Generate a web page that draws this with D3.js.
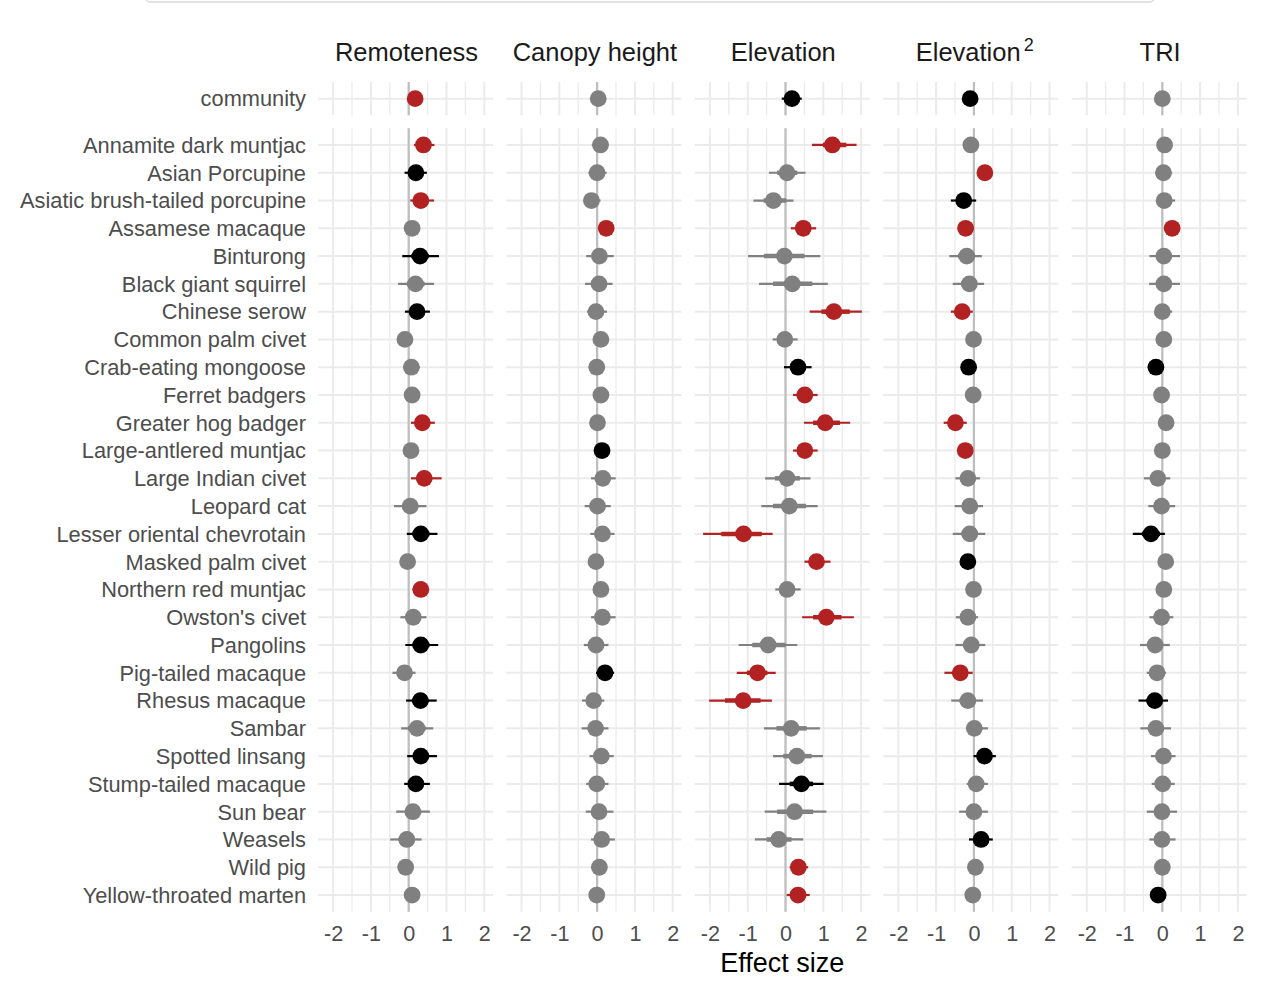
<!DOCTYPE html>
<html>
<head>
<meta charset="utf-8">
<script src="https://cdn.jsdelivr.net/npm/d3@7"></script>
<style>
  body { margin: 0; background: #fff; }
  svg { display: block; font-family: "Liberation Sans", Arial, sans-serif; }
  .tick-label { fill: #4D4D4D; }
</style>
</head>
<body>
<div id="chart"></div>
<script>
// species rows (top to bottom)
const species = [
  "Annamite dark muntjac", "Asian Porcupine", "Asiatic brush-tailed porcupine",
  "Assamese macaque", "Binturong", "Black giant squirrel", "Chinese serow",
  "Common palm civet", "Crab-eating mongoose", "Ferret badgers", "Greater hog badger",
  "Large-antlered muntjac", "Large Indian civet", "Leopard cat",
  "Lesser oriental chevrotain", "Masked palm civet", "Northern red muntjac",
  "Owston's civet", "Pangolins", "Pig-tailed macaque", "Rhesus macaque", "Sambar",
  "Spotted linsang", "Stump-tailed macaque", "Sun bear", "Weasels", "Wild pig",
  "Yellow-throated marten"
];

const covariates = ["Remoteness", "Canopy height", "Elevation", "Elevation2", "TRI"];
const xTicks = [-2, -1, 0, 1, 2];

// each row: [estimate, lo95, lo80, hi80, hi95, significance]
// first row = community, then species in the order above
const remoteness = [
  [0.17, 0.02, 0.10, 0.24, 0.32, "r"],
  [0.39, 0.14, 0.25, 0.53, 0.68, "r"], [0.19, -0.11, 0.05, 0.34, 0.48, "b"],
  [0.32, 0.04, 0.18, 0.48, 0.67, "r"], [0.09, -0.12, -0.02, 0.20, 0.30, "g"],
  [0.30, -0.17, 0.07, 0.53, 0.80, "b"], [0.18, -0.28, -0.05, 0.42, 0.67, "g"],
  [0.22, -0.10, 0.05, 0.39, 0.56, "b"], [-0.10, -0.30, -0.20, 0.00, 0.10, "g"],
  [0.07, -0.15, -0.04, 0.18, 0.30, "g"], [0.09, -0.10, -0.01, 0.19, 0.28, "g"],
  [0.36, 0.06, 0.20, 0.52, 0.69, "r"], [0.06, -0.14, -0.04, 0.16, 0.26, "g"],
  [0.41, 0.06, 0.22, 0.62, 0.87, "r"], [0.04, -0.39, -0.17, 0.25, 0.47, "g"],
  [0.32, -0.05, 0.10, 0.55, 0.76, "b"], [-0.03, -0.22, -0.12, 0.07, 0.17, "g"],
  [0.32, 0.10, 0.20, 0.44, 0.54, "r"], [0.12, -0.22, -0.05, 0.29, 0.47, "g"],
  [0.32, -0.09, 0.10, 0.55, 0.78, "b"], [-0.11, -0.43, -0.27, 0.04, 0.18, "g"],
  [0.31, -0.07, 0.09, 0.52, 0.74, "b"], [0.22, -0.20, -0.02, 0.45, 0.65, "g"],
  [0.32, -0.04, 0.11, 0.54, 0.75, "b"], [0.19, -0.12, 0.03, 0.37, 0.56, "b"],
  [0.11, -0.33, -0.10, 0.33, 0.56, "g"], [-0.05, -0.49, -0.27, 0.15, 0.34, "g"],
  [-0.08, -0.27, -0.17, 0.02, 0.11, "g"], [0.09, -0.10, -0.01, 0.19, 0.28, "g"]
];

const canopy = [
  [0.03, -0.17, -0.07, 0.13, 0.23, "g"],
  [0.09, -0.14, -0.03, 0.20, 0.30, "g"], [0.00, -0.23, -0.12, 0.12, 0.25, "g"],
  [-0.15, -0.36, -0.26, -0.03, 0.09, "g"], [0.24, 0.05, 0.14, 0.34, 0.43, "r"],
  [0.06, -0.29, -0.12, 0.25, 0.44, "g"], [0.05, -0.32, -0.13, 0.23, 0.41, "g"],
  [-0.03, -0.27, -0.15, 0.12, 0.26, "g"], [0.10, -0.09, 0.00, 0.20, 0.29, "g"],
  [-0.01, -0.20, -0.10, 0.09, 0.18, "g"], [0.10, -0.09, 0.00, 0.20, 0.29, "g"],
  [0.01, -0.19, -0.09, 0.11, 0.21, "g"], [0.13, -0.05, 0.04, 0.22, 0.31, "b"],
  [0.15, -0.16, -0.01, 0.32, 0.49, "g"], [0.01, -0.33, -0.16, 0.18, 0.36, "g"],
  [0.14, -0.18, -0.02, 0.30, 0.46, "g"], [-0.03, -0.22, -0.12, 0.07, 0.16, "g"],
  [0.10, -0.10, 0.00, 0.20, 0.30, "g"], [0.14, -0.16, -0.01, 0.31, 0.49, "g"],
  [-0.03, -0.35, -0.19, 0.14, 0.30, "g"], [0.21, -0.03, 0.08, 0.34, 0.45, "b"],
  [-0.09, -0.40, -0.24, 0.05, 0.19, "g"], [-0.04, -0.41, -0.22, 0.14, 0.30, "g"],
  [0.11, -0.20, -0.04, 0.27, 0.44, "g"], [-0.01, -0.29, -0.15, 0.14, 0.30, "g"],
  [0.05, -0.30, -0.12, 0.23, 0.43, "g"], [0.12, -0.16, -0.02, 0.29, 0.47, "g"],
  [0.06, -0.13, -0.04, 0.15, 0.25, "g"], [-0.01, -0.20, -0.10, 0.09, 0.18, "g"]
];

const elevation = [
  [0.17, -0.10, 0.02, 0.32, 0.43, "b"],
  [1.24, 0.70, 0.99, 1.61, 1.88, "r"], [0.04, -0.44, -0.22, 0.31, 0.53, "g"],
  [-0.32, -0.85, -0.58, 0.02, 0.21, "g"], [0.47, 0.14, 0.30, 0.64, 0.81, "r"],
  [-0.03, -0.99, -0.57, 0.50, 0.92, "g"], [0.18, -0.70, -0.33, 0.71, 1.12, "g"],
  [1.28, 0.64, 0.95, 1.70, 2.02, "r"], [-0.02, -0.34, -0.18, 0.15, 0.32, "g"],
  [0.33, -0.04, 0.13, 0.52, 0.69, "b"], [0.51, 0.20, 0.35, 0.68, 0.85, "r"],
  [1.05, 0.49, 0.73, 1.44, 1.71, "r"], [0.51, 0.20, 0.36, 0.67, 0.85, "r"],
  [0.04, -0.54, -0.28, 0.38, 0.66, "g"], [0.10, -0.64, -0.33, 0.54, 0.85, "g"],
  [-1.11, -2.18, -1.70, -0.63, -0.34, "r"], [0.82, 0.50, 0.66, 1.00, 1.19, "r"],
  [0.04, -0.27, -0.12, 0.22, 0.40, "g"], [1.08, 0.44, 0.73, 1.48, 1.81, "r"],
  [-0.46, -1.24, -0.88, 0.00, 0.31, "g"], [-0.74, -1.29, -1.02, -0.48, -0.26, "r"],
  [-1.12, -2.02, -1.60, -0.66, -0.36, "r"], [0.15, -0.57, -0.24, 0.56, 0.91, "g"],
  [0.30, -0.33, -0.06, 0.69, 0.99, "g"], [0.42, -0.17, 0.11, 0.73, 1.01, "b"],
  [0.24, -0.55, -0.22, 0.73, 1.08, "g"], [-0.18, -0.81, -0.50, 0.16, 0.47, "g"],
  [0.34, 0.11, 0.22, 0.47, 0.60, "r"], [0.33, 0.03, 0.18, 0.49, 0.64, "r"]
];

const elevationSq = [
  [-0.10, -0.25, -0.18, -0.02, 0.05, "b"],
  [-0.08, -0.27, -0.17, 0.02, 0.11, "g"], [0.29, 0.10, 0.20, 0.38, 0.48, "r"],
  [-0.27, -0.61, -0.44, -0.10, 0.06, "b"], [-0.22, -0.40, -0.31, -0.13, -0.04, "r"],
  [-0.19, -0.65, -0.42, 0.02, 0.21, "g"], [-0.12, -0.56, -0.34, 0.08, 0.27, "g"],
  [-0.31, -0.61, -0.46, -0.17, -0.03, "r"], [-0.01, -0.20, -0.10, 0.09, 0.18, "g"],
  [-0.14, -0.32, -0.23, -0.05, 0.03, "b"], [-0.02, -0.21, -0.11, 0.08, 0.17, "g"],
  [-0.49, -0.80, -0.65, -0.34, -0.19, "r"], [-0.23, -0.42, -0.32, -0.14, -0.05, "r"],
  [-0.16, -0.49, -0.32, 0.00, 0.16, "g"], [-0.11, -0.51, -0.30, 0.06, 0.24, "g"],
  [-0.11, -0.56, -0.33, 0.10, 0.30, "g"], [-0.16, -0.34, -0.25, -0.07, 0.02, "b"],
  [-0.01, -0.20, -0.10, 0.09, 0.18, "g"], [-0.16, -0.48, -0.32, 0.00, 0.11, "g"],
  [-0.07, -0.49, -0.28, 0.12, 0.30, "g"], [-0.36, -0.78, -0.56, -0.18, -0.03, "r"],
  [-0.16, -0.60, -0.38, 0.05, 0.24, "g"], [0.01, -0.21, -0.10, 0.18, 0.37, "g"],
  [0.28, -0.01, 0.13, 0.43, 0.58, "b"], [0.06, -0.19, -0.06, 0.20, 0.37, "g"],
  [0.00, -0.39, -0.19, 0.18, 0.37, "g"], [0.19, -0.13, 0.03, 0.35, 0.50, "b"],
  [0.04, -0.15, -0.05, 0.13, 0.23, "g"], [-0.03, -0.22, -0.12, 0.07, 0.16, "g"]
];

const tri = [
  [0.00, -0.19, -0.09, 0.09, 0.19, "g"],
  [0.06, -0.13, -0.04, 0.15, 0.25, "g"], [0.03, -0.19, -0.08, 0.14, 0.26, "g"],
  [0.05, -0.17, -0.06, 0.18, 0.34, "g"], [0.26, 0.07, 0.16, 0.36, 0.45, "r"],
  [0.04, -0.34, -0.15, 0.24, 0.47, "g"], [0.04, -0.35, -0.15, 0.24, 0.47, "g"],
  [0.00, -0.21, -0.10, 0.12, 0.26, "g"], [0.04, -0.15, -0.05, 0.13, 0.23, "g"],
  [-0.17, -0.36, -0.26, -0.08, 0.02, "b"], [-0.02, -0.21, -0.11, 0.08, 0.17, "g"],
  [0.10, -0.11, 0.00, 0.20, 0.31, "g"], [0.00, -0.19, -0.09, 0.09, 0.19, "g"],
  [-0.12, -0.49, -0.30, 0.05, 0.21, "g"], [-0.02, -0.37, -0.19, 0.16, 0.34, "g"],
  [-0.30, -0.78, -0.54, -0.06, 0.07, "b"], [0.09, -0.10, -0.01, 0.19, 0.28, "g"],
  [0.04, -0.15, -0.05, 0.13, 0.23, "g"], [-0.02, -0.34, -0.18, 0.14, 0.29, "g"],
  [-0.19, -0.59, -0.39, 0.01, 0.20, "g"], [-0.14, -0.41, -0.27, 0.00, 0.10, "g"],
  [-0.20, -0.63, -0.42, -0.02, 0.15, "b"], [-0.17, -0.58, -0.37, 0.03, 0.23, "g"],
  [0.03, -0.30, -0.13, 0.19, 0.35, "g"], [0.01, -0.28, -0.13, 0.16, 0.33, "g"],
  [-0.01, -0.41, -0.21, 0.19, 0.39, "g"], [-0.01, -0.34, -0.17, 0.16, 0.35, "g"],
  [0.00, -0.19, -0.09, 0.09, 0.19, "g"], [-0.11, -0.29, -0.20, -0.03, 0.02, "b"]
];

const panelData = [remoteness, canopy, elevation, elevationSq, tri];
const sigColour = {r: "#B22222", b: "#000000", g: "#808080"};

const width = 1270, height = 989;
const panelLeft = 318, panelWidth = 175, panelStep = 188.4;
const commTop = 82, commBottom = 115.3;
const spTop = 128.3, spBottom = 911.7;

const svg = d3.select("#chart").append("svg")
  .attr("width", width)
  .attr("height", height)
  .attr("viewBox", `0 0 ${width} ${height}`);

// cut-off box at top of the figure
svg.append("rect")
  .attr("x", 146).attr("y", -30)
  .attr("width", 1008).attr("height", 32)
  .attr("rx", 4)
  .attr("fill", "#fff")
  .attr("stroke", "#D9D9D9")
  .attr("stroke-width", 1.5);

//
// Scales
//

const x = d3.scaleLinear().domain([-2.4, 2.23]).range([0, panelWidth]);

const yComm = d3.scalePoint().domain(["community"]).range([commTop, commBottom]).padding(0.6);
const ySp = d3.scalePoint().domain(species).range([spTop, spBottom]).padding(0.6);

const minorTicks = [-2.5, -1.5, -0.5, 0.5, 1.5].filter(v => v >= x.domain()[0] && v <= x.domain()[1]);

//
// Y labels
//

const yLabels = svg.append("g").attr("class", "y-labels");
yLabels.append("text")
  .attr("class", "tick-label")
  .attr("x", 306).attr("y", yComm("community"))
  .attr("dy", "0.34em")
  .attr("text-anchor", "end")
  .style("font-size", "21.8px")
  .text("community");
yLabels.selectAll(".sp-label").data(species).enter().append("text")
  .attr("class", "tick-label sp-label")
  .attr("x", 306).attr("y", d => ySp(d))
  .attr("dy", "0.36em")
  .attr("text-anchor", "end")
  .style("font-size", "21.8px")
  .text(d => d);

//
// Panels
//

covariates.forEach((cov, k) => {
  const g = svg.append("g")
    .attr("transform", `translate(${panelLeft + k * panelStep},0)`);
  const rows = panelData[k];

  // strip label
  const strip = g.append("text")
    .attr("x", panelWidth / 2 + (cov === "Elevation2" ? 4 : 1)).attr("y", 61)
    .attr("text-anchor", "middle")
    .style("font-size", "25.5px")
    .attr("fill", "#1A1A1A");
  if (cov === "Elevation2") {
    strip.append("tspan").text("Elevation");
    strip.append("tspan").attr("dx", 3).attr("dy", -10).style("font-size", "18px").text("2");
  } else {
    strip.text(cov);
  }

  [[commTop, commBottom, ["community"], yComm, rows.slice(0, 1)],
   [spTop, spBottom, species, ySp, rows.slice(1)]].forEach(([top, bottom, cats, y, vals]) => {
    // minor grid
    g.selectAll(null).data(minorTicks).enter().append("line")
      .attr("x1", d => x(d)).attr("x2", d => x(d))
      .attr("y1", top).attr("y2", bottom)
      .attr("stroke", "#EBEBEB").attr("stroke-width", 1.3);
    // major grid
    g.selectAll(null).data(xTicks).enter().append("line")
      .attr("x1", d => x(d)).attr("x2", d => x(d))
      .attr("y1", top).attr("y2", bottom)
      .attr("stroke", "#EBEBEB").attr("stroke-width", 2);
    g.selectAll(null).data(cats).enter().append("line")
      .attr("x1", 0).attr("x2", panelWidth)
      .attr("y1", d => y(d)).attr("y2", d => y(d))
      .attr("stroke", "#EBEBEB").attr("stroke-width", 2);
    // zero reference
    g.append("line")
      .attr("x1", x(0)).attr("x2", x(0))
      .attr("y1", top).attr("y2", bottom)
      .attr("stroke", "#BEBEBE").attr("stroke-width", 2.2);

    const marks = g.selectAll(null).data(vals).enter().append("g")
      .attr("transform", (d, i) => `translate(0,${y(cats[i])})`);
    marks.append("line")
      .attr("x1", d => x(d[1])).attr("x2", d => x(d[4]))
      .attr("stroke", d => sigColour[d[5]]).attr("stroke-width", 2.2);
    marks.append("line")
      .attr("x1", d => x(d[2])).attr("x2", d => x(d[3]))
      .attr("stroke", d => sigColour[d[5]]).attr("stroke-width", 4.5);
    marks.append("circle")
      .attr("cx", d => x(d[0])).attr("cy", 0)
      .attr("r", 8.4)
      .attr("fill", d => sigColour[d[5]]);
  });

  // x axis
  const axis = g.append("g")
    .attr("transform", `translate(0,${spBottom})`)
    .call(d3.axisBottom(x).tickValues(xTicks).tickFormat(d => d < 0 ? "-" + Math.abs(d) : d).tickSize(0).tickPadding(14));
  axis.select(".domain").remove();
  axis.selectAll("text")
    .attr("class", "tick-label")
    .style("font-size", "21.6px")
    .style("font-family", "'Liberation Sans', Arial, sans-serif");
});

svg.append("text")
  .attr("x", panelLeft + 2 * panelStep + panelWidth / 2).attr("y", 972)
  .attr("text-anchor", "middle")
  .style("font-size", "27px")
  .attr("fill", "#000")
  .text("Effect size");
</script>
</body>
</html>
